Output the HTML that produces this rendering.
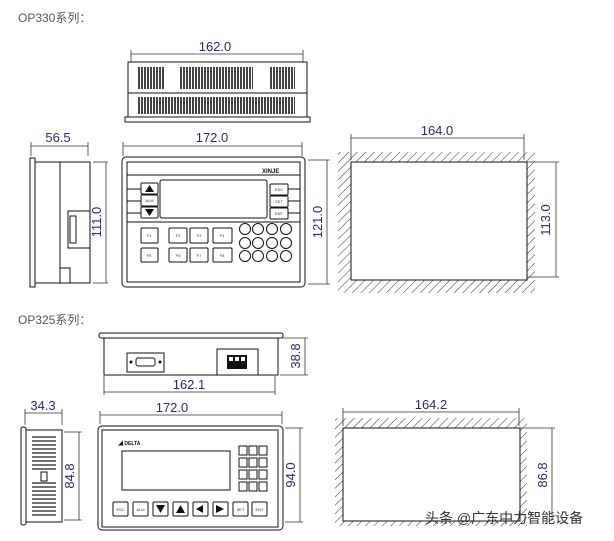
<!DOCTYPE html>
<html><head><meta charset="utf-8"><style>
html,body{margin:0;padding:0;background:#fff;width:614px;height:541px;overflow:hidden}
svg{display:block}
text{font-family:"Liberation Sans","Noto Sans CJK SC",sans-serif}
.d{fill:#2a2a6a;font-size:13px}
.l{stroke:#111;fill:none;stroke-width:1}
.dm{stroke:#333;stroke-width:0.8;fill:none}
.k{font-size:4px;fill:#333}
</style></head><body>
<svg width="614" height="541" viewBox="0 0 614 541" xmlns="http://www.w3.org/2000/svg">
<defs>
<pattern id="h" width="6" height="6" patternUnits="userSpaceOnUse" patternTransform="rotate(45)">
<line x1="0" y1="0" x2="0" y2="6" stroke="#333" stroke-width="1"/></pattern>
<pattern id="v" width="3" height="30" patternUnits="userSpaceOnUse">
<rect x="0" y="0" width="2" height="30" fill="#222"/></pattern>
</defs>
<text x="18" y="22" font-size="12" fill="#555">OP330系列：</text>
<text x="18" y="324" font-size="12" fill="#555">OP325系列：</text>

<!-- OP330 top view -->
<line class="dm" x1="131" y1="54" x2="303" y2="54"/><line class="dm" x1="131" y1="50" x2="131" y2="62"/><line class="dm" x1="303" y1="50" x2="303" y2="62"/>
<text class="d" x="215" y="51" text-anchor="middle">162.0</text>
<rect class="l" x="128" y="62" width="179" height="55"/>
<line class="l" x1="128" y1="93" x2="307" y2="93"/>
<rect class="l" x="125" y="117" width="185" height="5"/>
<rect x="138" y="67" width="26" height="22" fill="url(#v)" opacity=".85"/>
<rect x="180" y="67" width="73" height="22" fill="url(#v)" opacity=".85"/>
<rect x="269" y="67" width="26" height="22" fill="url(#v)" opacity=".85"/>
<rect x="138" y="97" width="157" height="17" fill="url(#v)" opacity=".85"/>

<!-- OP330 side -->
<line class="dm" x1="31" y1="146" x2="88" y2="146"/><line class="dm" x1="31" y1="142" x2="31" y2="156"/><line class="dm" x1="88" y1="142" x2="88" y2="156"/>
<text class="d" x="58" y="142" text-anchor="middle">56.5</text>
<rect class="l" x="30" y="158" width="5" height="129"/>
<rect class="l" x="35" y="162" width="55" height="121"/>
<line class="l" x1="60" y1="162" x2="60" y2="283"/>
<rect class="l" x="68" y="211" width="22" height="37"/>
<rect class="l" x="70" y="216" width="6" height="27"/>
<rect class="l" x="60" y="268" width="10" height="15"/>
<line class="dm" x1="93" y1="162" x2="108" y2="162"/><line class="dm" x1="93" y1="283" x2="108" y2="283"/><line class="dm" x1="106" y1="162" x2="106" y2="283"/>
<text class="d" x="101" y="222" text-anchor="middle" transform="rotate(-90 101 222)">111.0</text>

<!-- OP330 front -->
<line class="dm" x1="123" y1="146" x2="302" y2="146"/><line class="dm" x1="123" y1="142" x2="123" y2="156"/><line class="dm" x1="302" y1="142" x2="302" y2="156"/>
<text class="d" x="212" y="142" text-anchor="middle">172.0</text>
<rect class="l" x="122" y="157" width="183" height="130" rx="4"/>
<rect class="l" x="127" y="162" width="173" height="120"/>
<line class="l" x1="127" y1="175" x2="300" y2="175"/>
<line class="l" x1="127" y1="222" x2="300" y2="222"/>
<line class="l" x1="127" y1="189" x2="141" y2="189"/><line class="l" x1="127" y1="201" x2="141" y2="201"/><line class="l" x1="127" y1="213" x2="141" y2="213"/>
<line class="l" x1="288" y1="189" x2="300" y2="189"/><line class="l" x1="288" y1="201" x2="300" y2="201"/><line class="l" x1="288" y1="213" x2="300" y2="213"/>
<text x="262" y="173" font-size="6" font-weight="bold" fill="#111">XINJE</text>
<rect class="l" x="160" y="180" width="107" height="38" rx="2"/>
<rect class="l" x="141" y="183" width="17" height="11" rx="1"/><polygon points="149.5,185 145,192 154,192" fill="#111"/>
<rect class="l" x="141" y="195" width="17" height="11" rx="1"/><text class="k" x="149.5" y="202" text-anchor="middle">ALM</text>
<rect class="l" x="141" y="207" width="17" height="11" rx="1"/><polygon points="149.5,216 145,209 154,209" fill="#111"/>
<rect class="l" x="270" y="184" width="18" height="11" rx="1"/><text class="k" x="279" y="191" text-anchor="middle">ESC</text>
<rect class="l" x="270" y="196" width="18" height="11" rx="1"/><text class="k" x="279" y="203" text-anchor="middle">SET</text>
<rect class="l" x="270" y="208" width="18" height="11" rx="1"/><text class="k" x="279" y="215" text-anchor="middle">ENT</text>
<g>
<rect class="l" x="141" y="228" width="17" height="15" rx="1"/><rect class="l" x="169" y="228" width="18" height="15" rx="1"/><rect class="l" x="190" y="228" width="18" height="15" rx="1"/><rect class="l" x="213" y="228" width="19" height="15" rx="1"/>
<rect class="l" x="141" y="248" width="17" height="14" rx="1"/><rect class="l" x="169" y="248" width="18" height="14" rx="1"/><rect class="l" x="190" y="248" width="18" height="14" rx="1"/><rect class="l" x="213" y="248" width="19" height="14" rx="1"/>
<text class="k" x="149" y="237" text-anchor="middle">F1</text><text class="k" x="178" y="237" text-anchor="middle">F2</text><text class="k" x="199" y="237" text-anchor="middle">F3</text><text class="k" x="222" y="237" text-anchor="middle">F4</text>
<text class="k" x="149" y="257" text-anchor="middle">F5</text><text class="k" x="178" y="257" text-anchor="middle">F6</text><text class="k" x="199" y="257" text-anchor="middle">F7</text><text class="k" x="222" y="257" text-anchor="middle">F8</text>
</g>
<g class="l">
<circle cx="245" cy="229" r="5.5"/><circle cx="258" cy="229" r="5.5"/><circle cx="272" cy="229" r="5.5"/><circle cx="286" cy="229" r="5.5"/>
<circle cx="245" cy="243" r="5.5"/><circle cx="258" cy="243" r="5.5"/><circle cx="272" cy="243" r="5.5"/><circle cx="286" cy="243" r="5.5"/>
<circle cx="245" cy="256" r="5.5"/><circle cx="258" cy="256" r="5.5"/><circle cx="272" cy="256" r="5.5"/><circle cx="286" cy="256" r="5.5"/>
</g>
<line class="dm" x1="308" y1="160" x2="330" y2="160"/><line class="dm" x1="308" y1="284" x2="330" y2="284"/><line class="dm" x1="327" y1="160" x2="327" y2="284"/>
<text class="d" x="322" y="222" text-anchor="middle" transform="rotate(-90 322 222)">121.0</text>

<!-- OP330 cutout -->
<rect x="338" y="152" width="197" height="141" fill="url(#h)"/>
<rect x="351" y="162" width="176" height="118" fill="#fff" stroke="#111"/>
<line class="dm" x1="351" y1="138" x2="524" y2="138"/><line class="dm" x1="351" y1="134" x2="351" y2="160"/><line class="dm" x1="524" y1="134" x2="524" y2="160"/>
<text class="d" x="437" y="135" text-anchor="middle">164.0</text>
<line class="dm" x1="527" y1="162" x2="559" y2="162"/><line class="dm" x1="527" y1="277" x2="559" y2="277"/><line class="dm" x1="556" y1="162" x2="556" y2="277"/>
<text class="d" x="550" y="220" text-anchor="middle" transform="rotate(-90 550 220)">113.0</text>

<!-- OP325 top -->
<rect class="l" x="99" y="333" width="184" height="5" rx="2"/>
<rect class="l" x="104" y="338" width="174" height="37"/>
<rect class="l" x="127" y="353" width="37" height="19"/>
<rect class="l" x="136" y="358" width="19" height="8" rx="2"/><circle cx="131" cy="362" r="1.5" fill="#111"/><circle cx="160" cy="362" r="1.5" fill="#111"/>
<rect class="l" x="217" y="349" width="41" height="26"/>
<rect x="227" y="355" width="20" height="14" fill="#111"/>
<rect x="229" y="357" width="4" height="4" fill="#fff"/><rect x="235" y="357" width="4" height="4" fill="#fff"/><rect x="241" y="357" width="4" height="4" fill="#fff"/>
<line class="dm" x1="280" y1="338" x2="308" y2="338"/><line class="dm" x1="280" y1="375" x2="308" y2="375"/><line class="dm" x1="305" y1="338" x2="305" y2="375"/>
<text class="d" x="300" y="356" text-anchor="middle" transform="rotate(-90 300 356)">38.8</text>
<line class="dm" x1="104" y1="392" x2="275" y2="392"/><line class="dm" x1="104" y1="376" x2="104" y2="395"/><line class="dm" x1="275" y1="376" x2="275" y2="395"/>
<text class="d" x="189" y="389" text-anchor="middle">162.1</text>

<!-- OP325 side -->
<line class="dm" x1="25" y1="413" x2="62" y2="413"/><line class="dm" x1="25" y1="409" x2="25" y2="425"/><line class="dm" x1="62" y1="409" x2="62" y2="425"/>
<text class="d" x="43" y="410" text-anchor="middle">34.3</text>
<rect class="l" x="21" y="427" width="5" height="98" rx="2"/>
<rect class="l" x="26" y="430" width="36" height="92"/>
<g stroke="#222" stroke-width="1.2">
<line x1="32" y1="437" x2="56" y2="437"/><line x1="32" y1="441" x2="56" y2="441"/><line x1="32" y1="445" x2="56" y2="445"/><line x1="32" y1="449" x2="56" y2="449"/><line x1="32" y1="453" x2="56" y2="453"/><line x1="32" y1="457" x2="56" y2="457"/><line x1="32" y1="461" x2="56" y2="461"/><line x1="32" y1="465" x2="56" y2="465"/><line x1="32" y1="469" x2="56" y2="469"/>
<line x1="32" y1="483" x2="56" y2="483"/><line x1="32" y1="487" x2="56" y2="487"/><line x1="32" y1="491" x2="56" y2="491"/><line x1="32" y1="495" x2="56" y2="495"/><line x1="32" y1="499" x2="56" y2="499"/><line x1="32" y1="503" x2="56" y2="503"/><line x1="32" y1="507" x2="56" y2="507"/><line x1="32" y1="511" x2="56" y2="511"/><line x1="32" y1="515" x2="56" y2="515"/>
</g>
<rect class="l" x="41" y="472" width="6" height="9"/>
<line class="dm" x1="64" y1="432" x2="82" y2="432"/><line class="dm" x1="64" y1="520" x2="82" y2="520"/><line class="dm" x1="79" y1="432" x2="79" y2="520"/>
<text class="d" x="74" y="476" text-anchor="middle" transform="rotate(-90 74 476)">84.8</text>

<!-- OP325 front -->
<line class="dm" x1="100" y1="415" x2="282" y2="415"/><line class="dm" x1="100" y1="411" x2="100" y2="424"/><line class="dm" x1="282" y1="411" x2="282" y2="424"/>
<text class="d" x="172" y="412" text-anchor="middle">172.0</text>
<rect class="l" x="98" y="426" width="185" height="104" rx="4"/>
<rect class="l" x="102" y="430" width="176" height="97"/>
<text x="118" y="445" font-size="5" font-weight="bold" fill="#111">◢ DELTA</text>
<rect class="l" x="122" y="451" width="108" height="39"/>
<g class="l">
<rect x="239" y="446" width="8" height="9"/><rect x="249" y="446" width="8" height="9"/><rect x="259" y="446" width="8" height="9"/>
<rect x="239" y="458" width="8" height="9"/><rect x="249" y="458" width="8" height="9"/><rect x="259" y="458" width="8" height="9"/>
<rect x="239" y="470" width="8" height="9"/><rect x="249" y="470" width="8" height="9"/><rect x="259" y="470" width="8" height="9"/>
<rect x="239" y="482" width="8" height="9"/><rect x="249" y="482" width="8" height="9"/><rect x="259" y="482" width="8" height="9"/>
</g>
<g class="l">
<rect x="113" y="502" width="15" height="14" rx="1"/><rect x="133" y="502" width="15" height="14" rx="1"/><rect x="153" y="502" width="15" height="14" rx="1"/><rect x="173" y="502" width="15" height="14" rx="1"/>
<rect x="193" y="502" width="15" height="14" rx="1"/><rect x="213" y="502" width="15" height="14" rx="1"/><rect x="233" y="502" width="15" height="14" rx="1"/><rect x="252" y="502" width="15" height="14" rx="1"/>
</g>
<text class="k" x="120.5" y="511" text-anchor="middle">ESC</text><text class="k" x="140.5" y="511" text-anchor="middle">ALM</text>
<polygon points="156,505 165,505 160.5,513" fill="#111"/><polygon points="176,513 185,513 180.5,505" fill="#111"/>
<polygon points="203,505 203,513 196,509" fill="#111"/><polygon points="216,505 216,513 224,509" fill="#111"/>
<text class="k" x="240.5" y="511" text-anchor="middle">SET</text><text class="k" x="259.5" y="511" text-anchor="middle">ENT</text>
<line class="dm" x1="285" y1="428" x2="303" y2="428"/><line class="dm" x1="285" y1="522" x2="303" y2="522"/><line class="dm" x1="300" y1="428" x2="300" y2="522"/>
<text class="d" x="295" y="475" text-anchor="middle" transform="rotate(-90 295 475)">94.0</text>

<!-- OP325 cutout -->
<rect x="335" y="418" width="192" height="108" fill="url(#h)"/>
<rect x="343" y="428" width="177" height="93" fill="#fff" stroke="#111"/>
<line class="dm" x1="343" y1="412" x2="519" y2="412"/><line class="dm" x1="343" y1="408" x2="343" y2="426"/><line class="dm" x1="519" y1="408" x2="519" y2="426"/>
<text class="d" x="431" y="409" text-anchor="middle">164.2</text>
<line class="dm" x1="520" y1="428" x2="555" y2="428"/><line class="dm" x1="552" y1="428" x2="552" y2="520"/>
<text class="d" x="547" y="475" text-anchor="middle" transform="rotate(-90 547 475)">86.8</text>

<text x="425" y="523" font-size="14" fill="#333">头条 @广东中力智能设备</text>
</svg>
</body></html>
